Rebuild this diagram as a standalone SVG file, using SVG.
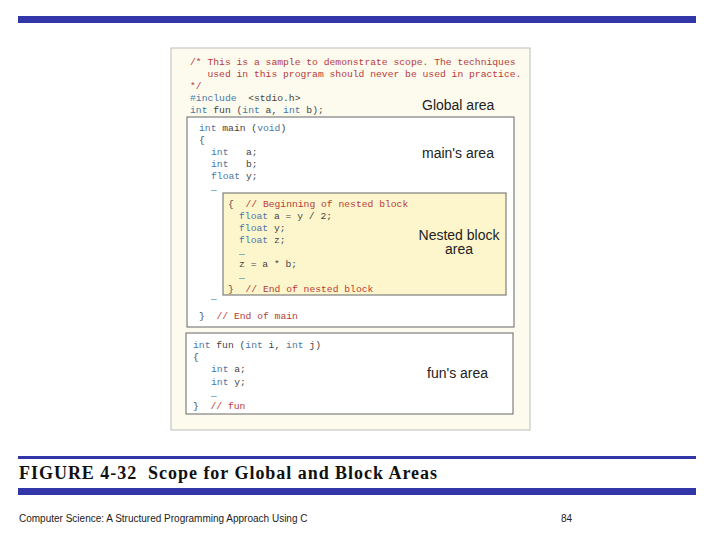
<svg xmlns="http://www.w3.org/2000/svg" width="720" height="540" viewBox="0 0 720 540">
<style>
.c{font-family:"Liberation Mono",monospace;font-size:9.7px;fill:#444;white-space:pre}
.k{fill:#4a78a8}
.r{fill:#b83a3a}
.l{font-family:"Liberation Sans",Arial,sans-serif;font-size:14px;fill:#222}
.bx{stroke:#666;stroke-width:1}
</style>
<rect x="18" y="16" width="678" height="7" fill="#3336a8"/>
<g id="figure">
<rect x="171" y="48" width="359" height="382" fill="#fdfbee" stroke="#bbb"/>
<text class="c r" x="190" y="65" xml:space="preserve">/* This is a sample to demonstrate scope. The techniques</text>
<text class="c r" x="190" y="77" xml:space="preserve">   used in this program should never be used in practice.</text>
<text class="c r" x="190" y="89">*/</text>
<text class="c" x="190" y="101" xml:space="preserve"><tspan class="k">#include</tspan>  &lt;stdio.h&gt;</text>
<text class="c" x="190" y="113" xml:space="preserve"><tspan class="k">int</tspan> fun (<tspan class="k">int</tspan> a, <tspan class="k">int</tspan> b);</text>
<text class="l" x="422" y="110">Global area</text>
</g>
<g id="main">
<rect class="bx" x="187" y="117" width="327" height="210" fill="#fff"/>
<text class="c" x="199" y="131" xml:space="preserve"><tspan class="k">int</tspan> main (<tspan class="k">void</tspan>)</text>
<text class="c" x="199" y="143">{</text>
<text class="c" x="211" y="155" xml:space="preserve"><tspan class="k">int</tspan>   a;</text>
<text class="c" x="211" y="167" xml:space="preserve"><tspan class="k">int</tspan>   b;</text>
<text class="c" x="211" y="179" xml:space="preserve"><tspan class="k">float</tspan> y;</text>
<text class="c" x="211" y="191">…</text>
<text class="c" x="211" y="300">…</text>
<text class="c" x="199" y="319" xml:space="preserve">}  <tspan class="r">// End of main</tspan></text>
<text class="l" x="422" y="158">main's area</text>
</g>
<g id="nested">
<rect class="bx" x="223" y="193" width="283" height="102" fill="#fdf6cc"/>
<text class="c" x="228" y="207" xml:space="preserve">{  <tspan class="r">// Beginning of nested block</tspan></text>
<text class="c" x="239" y="219" xml:space="preserve"><tspan class="k">float</tspan> a = y / 2;</text>
<text class="c" x="239" y="231" xml:space="preserve"><tspan class="k">float</tspan> y;</text>
<text class="c" x="239" y="243" xml:space="preserve"><tspan class="k">float</tspan> z;</text>
<text class="c" x="239" y="255">…</text>
<text class="c" x="239" y="267" xml:space="preserve">z = a * b;</text>
<text class="c" x="239" y="279">…</text>
<text class="c" x="228" y="292" xml:space="preserve">}  <tspan class="r">// End of nested block</tspan></text>
<text class="l" x="459" y="240" text-anchor="middle">Nested block</text>
<text class="l" x="459" y="254" text-anchor="middle">area</text>
</g>
<g id="fun">
<rect class="bx" x="186" y="333" width="327" height="81" fill="#fff"/>
<text class="c" x="193" y="348" xml:space="preserve"><tspan class="k">int</tspan> fun (<tspan class="k">int</tspan> i, <tspan class="k">int</tspan> j)</text>
<text class="c" x="193" y="360">{</text>
<text class="c" x="211" y="372" xml:space="preserve"><tspan class="k">int</tspan> a;</text>
<text class="c" x="211" y="385" xml:space="preserve"><tspan class="k">int</tspan> y;</text>
<text class="c" x="211" y="397">…</text>
<text class="c" x="193" y="409" xml:space="preserve">}  <tspan class="r">// fun</tspan></text>
<text class="l" x="427" y="378">fun's area</text>
</g>
<g id="connectors"/>
<rect x="18" y="456" width="678" height="3" fill="#3336a8"/>
<text x="19" y="479" font-family="Liberation Serif,serif" font-size="18" font-weight="bold" fill="#111" textLength="418" xml:space="preserve">FIGURE 4-32  Scope for Global and Block Areas</text>
<rect x="18" y="488" width="678" height="7" fill="#3336a8"/>
<text x="19" y="522" font-family="Liberation Sans,sans-serif" font-size="10" fill="#222">Computer Science: A Structured Programming Approach Using C</text>
<text x="561" y="522" font-family="Liberation Sans,sans-serif" font-size="10" fill="#222">84</text>
</svg>
